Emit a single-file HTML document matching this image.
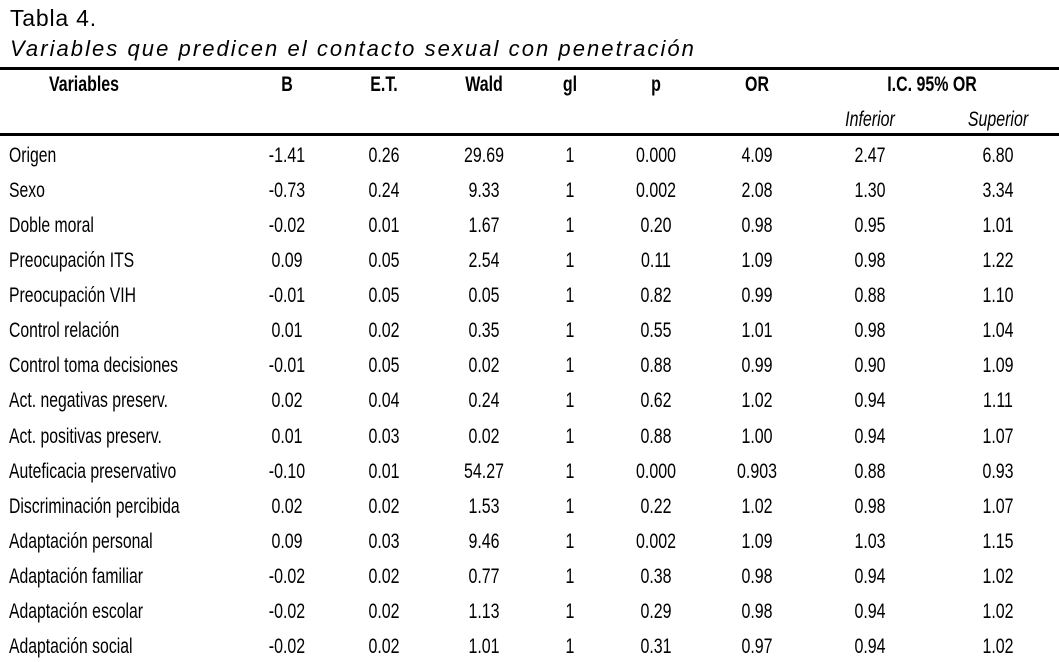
<!DOCTYPE html>
<html><head><meta charset="utf-8"><style>
body{margin:0;background:#fff;width:1059px;height:662px;position:relative;overflow:hidden;font-family:"Liberation Sans",sans-serif;color:#000}
.t{position:absolute;white-space:nowrap;font-family:"Liberation Sans",sans-serif}
.c{position:absolute;white-space:nowrap;font-size:21px;transform:translate(-50%,-50%) scaleX(0.76)}
.l{position:absolute;white-space:nowrap;font-size:21px;transform:translateY(-50%) scaleX(0.75);transform-origin:0 50%;left:9px}
.h{font-weight:bold}
.line{position:absolute;left:0;width:1059px;height:3px;background:#000}
</style></head><body>
<div class="t" style="left:10px;top:5px;font-size:23px;letter-spacing:0.8px">Tabla 4.</div>
<div class="t" style="left:10px;top:36px;font-size:22px;font-style:italic;letter-spacing:2.05px">Variables que predicen el contacto sexual con penetración</div>
<div class="line" style="top:67px"></div>
<div class="line" style="top:133px"></div>
<div id="r"></div>
<script>
const cols=[287,384,484,570,656,757,870,998];
let h='';
const hd=['B','E.T.','Wald','gl','p','OR'];
h+=`<div class="c h" style="left:84px;top:85px">Variables</div>`;
hd.forEach((t,i)=>h+=`<div class="c h" style="left:${cols[i]}px;top:85px">${t}</div>`);
h+=`<div class="c h" style="left:932px;top:85px">I.C. 95% OR</div>`;
h+=`<div class="c" style="left:870px;top:120px;font-style:italic">Inferior</div>`;
h+=`<div class="c" style="left:998px;top:120px;font-style:italic">Superior</div>`;
const rows=[
["Origen","-1.41","0.26","29.69","1","0.000","4.09","2.47","6.80"],
["Sexo","-0.73","0.24","9.33","1","0.002","2.08","1.30","3.34"],
["Doble moral","-0.02","0.01","1.67","1","0.20","0.98","0.95","1.01"],
["Preocupación ITS","0.09","0.05","2.54","1","0.11","1.09","0.98","1.22"],
["Preocupación VIH","-0.01","0.05","0.05","1","0.82","0.99","0.88","1.10"],
["Control relación","0.01","0.02","0.35","1","0.55","1.01","0.98","1.04"],
["Control toma decisiones","-0.01","0.05","0.02","1","0.88","0.99","0.90","1.09"],
["Act. negativas preserv.","0.02","0.04","0.24","1","0.62","1.02","0.94","1.11"],
["Act. positivas preserv.","0.01","0.03","0.02","1","0.88","1.00","0.94","1.07"],
["Auteficacia preservativo","-0.10","0.01","54.27","1","0.000","0.903","0.88","0.93"],
["Discriminación percibida","0.02","0.02","1.53","1","0.22","1.02","0.98","1.07"],
["Adaptación personal","0.09","0.03","9.46","1","0.002","1.09","1.03","1.15"],
["Adaptación familiar","-0.02","0.02","0.77","1","0.38","0.98","0.94","1.02"],
["Adaptación escolar","-0.02","0.02","1.13","1","0.29","0.98","0.94","1.02"],
["Adaptación social","-0.02","0.02","1.01","1","0.31","0.97","0.94","1.02"]];
rows.forEach((r,j)=>{const y=156+35.07*j;
h+=`<div class="l" style="top:${y}px">${r[0]}</div>`;
for(let i=1;i<9;i++)h+=`<div class="c" style="left:${cols[i-1]}px;top:${y}px">${r[i]}</div>`;});
document.getElementById('r').innerHTML=h;
</script>
</body></html>
